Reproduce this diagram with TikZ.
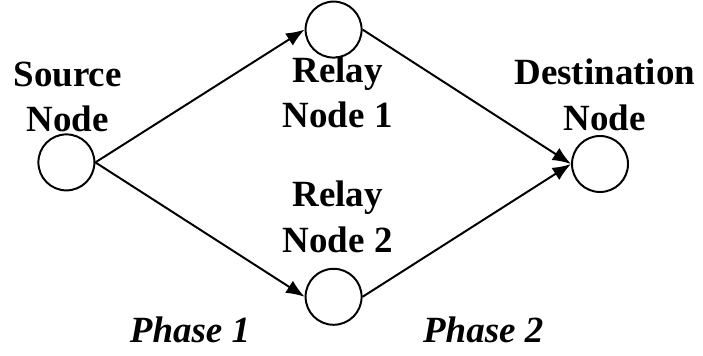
\documentclass[tikz,border=0pt]{standalone}
\usepackage{fontspec}
\setmainfont{Liberation Serif}
\usetikzlibrary{arrows.meta}

\begin{document}
\begin{tikzpicture}[
    % Стиль для вершин: круг, нарисовать границу, белый фон
    vertex/.style={circle, draw, line width=1.4pt, fill=white, minimum size=1.4cm, inner sep=0pt},
    % Стиль для ребер: толстая линия со стрелкой
    edge/.style={line width=1.4pt, -{Latex[length=4.6mm, width=3.6mm]}},
    % Стиль для подписей вершин
    caption/.style={align=center, anchor=base, inner sep=0pt,
        font=\fontsize{26.3}{32.7}\selectfont\bfseries},
    % Стиль для подписей фаз
    phase/.style={anchor=base, inner sep=0pt,
        font=\fontsize{26.3}{32.7}\selectfont\bfseries\itshape}
]
    \useasboundingbox (0, 0) rectangle (17.575, 8.9);

    % --- Вершины ---
    \node[vertex] (src) at (1.66, 4.84) {};
    \node[vertex] (r1) at (8.34, 8.16) {};
    \node[vertex] (r2) at (8.34, 1.48) {};
    \node[vertex] (dst) at (15.0, 4.8) {};

    % --- Подписи вершин (base = нижняя строка) ---
    \node[caption] (srclabel) at (1.69, 5.6) {Source\\Node};
    \node[caption] (r1label) at (8.44, 5.7) {Relay\\Node 1};
    \node[caption] (r2label) at (8.44, 2.58) {Relay\\Node 2};
    \node[caption] (dstlabel) at (15.12, 5.64) {Destination\\Node};

    % --- Первая фаза: источник -> ретрансляторы ---
    \draw[edge] (src.east) -- (r1.west);
    \draw[edge] (src.east) -- (r2.west);

    % --- Вторая фаза: ретрансляторы -> получатель ---
    \draw[edge] (r1.east) -- (dst.west);
    \draw[edge] (r2.east) -- (dst.west);

    % --- Подписи фаз ---
    \node[phase] (ph1) at (4.75, 0.33) {Phase 1};
    \node[phase] (ph2) at (12.08, 0.33) {Phase 2};

\end{tikzpicture}
\end{document}
